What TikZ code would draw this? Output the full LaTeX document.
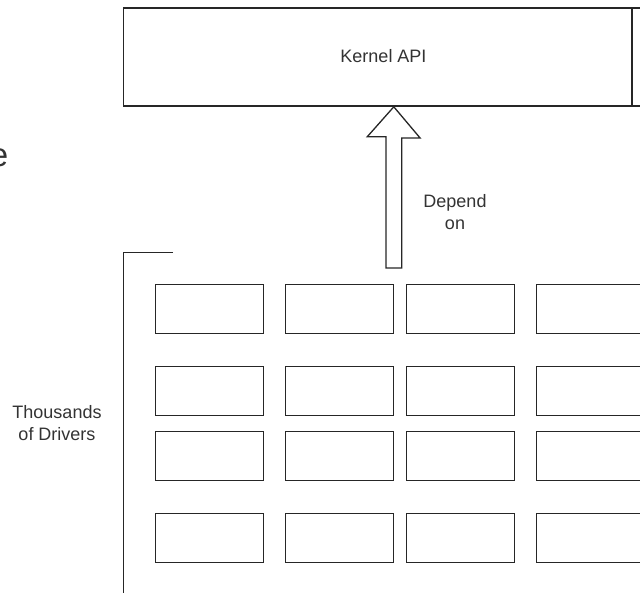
\documentclass[tikz,border=0pt]{standalone}
\usepackage{fontspec}
\setmainfont{Liberation Sans}
\begin{document}
\begin{tikzpicture}[x=1pt,y=-1pt,
  ink/.style={draw=black!85, line width=1.3pt},
  lbl/.style={text=black!80, font=\fontsize{18}{22.5}\selectfont, align=center, inner sep=0pt},
  drv/.style={ink, fill=white, minimum width=108pt, minimum height=49pt, inner sep=0pt, outer sep=0pt}]
\useasboundingbox (0,0) rectangle (640,593);
\clip (0,0) rectangle (640,593);

% kernel interface box (runs past the right margin)
\node[ink, fill=white, minimum width=521pt, minimum height=98pt, inner sep=0pt, anchor=north west] (kernel) at (123,7.5) {};
\node[lbl] (kapi) at (383.5,56) {Kernel API};
\coordinate (kne) at (632,7.5);
\coordinate (kse) at (632,105.5);
\draw[ink] (kne) -- (kse);

% cut-off heading letter on the left
\node[text=black!80, font=\fontsize{33}{40}\selectfont, inner sep=0pt, anchor=base east] (head) at (8.5,166.5) {e};

% bracket grouping the drivers
\coordinate (brtop) at (123.3,252.3);
\coordinate (brend) at (173,252.3);
\coordinate (brbot) at (123.3,600);
\draw[ink] (brend) -- (brtop) -- (brbot);

\node[lbl] (thous) at (57,423) {Thousands\\of Drivers};

% driver grid
\foreach \cx [count=\c] in {209.7,339.5,460.2,590.7}{
  \foreach \cy [count=\r] in {308.8,391,456,537.7}{
    \node[drv] (d\r\c) at (\cx,\cy) {};
  }
}

% hollow block arrow: drivers depend on the kernel API
\coordinate (dep) at (393.8,268);
\coordinate (tip) at (dep |- kernel.south);
\draw[ink, fill=white, line join=miter]
  (tip) -- ++(26.3,31.2) -- ++(-18.3,0) |- (dep) -- ++(-7.8,0)
  -- ++(0,-131.3) -- ++(-18.7,0) -- cycle;
\node[lbl] (dlbl) at (455,212) {Depend\\on};
\end{tikzpicture}
\end{document}
